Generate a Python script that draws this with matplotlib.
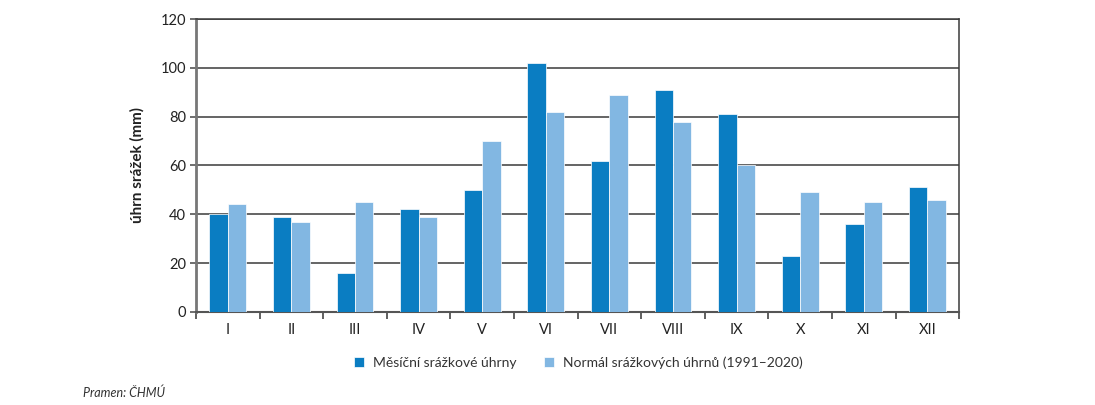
import numpy as np
import matplotlib.pyplot as plt

plt.rcParams['font.family'] = ['Lato', 'DejaVu Sans']

mesice = ['I', 'II', 'III', 'IV', 'V', 'VI', 'VII', 'VIII', 'IX', 'X', 'XI', 'XII']
uhrny = [40, 39, 16, 42, 50, 102, 62, 91, 81, 23, 36, 51]
normal = [44, 37, 45, 39, 70, 82, 89, 78, 60, 49, 45, 46]

tmava = '#0a7dc2'
svetla = '#82b7e2'

fig = plt.figure(figsize=(10.95, 4.05), dpi=100)
ax = fig.add_axes([0.179, 0.230, 0.697, 0.723])

x = np.arange(len(mesice))
w = 0.29
ax.bar(x - w/2, uhrny, w, color=tmava, edgecolor='white', linewidth=0.5, zorder=3,
       label='Měsíční srážkové úhrny')
ax.bar(x + w/2, normal, w, color=svetla, edgecolor='white', linewidth=0.5, zorder=3,
       label='Normál srážkových úhrnů (1991–2020)')

ax.set_xlim(-0.5, len(mesice) - 0.5)
ax.set_ylim(0, 120)
ax.set_yticks(range(0, 121, 20))
ax.yaxis.grid(True, color='#3a3a3a', linewidth=1.1, zorder=0)
ax.set_axisbelow(True)

# popisky mesicu uprostred, carky mezi kategoriemi
ax.set_xticks(x)
ax.set_xticklabels(mesice)
ax.tick_params(axis='x', length=0, pad=8, labelsize=10.5, colors='#222222')
ax.set_xticks(np.arange(-0.5, len(mesice) + 0.5, 1), minor=True)
ax.tick_params(axis='x', which='minor', length=5, width=1.2, color='#444444')
ax.tick_params(axis='y', length=4, width=1.2, color='#555555', labelsize=10.5,
               labelcolor='#222222', pad=3)

for s in ['top', 'right']:
    ax.spines[s].set_color('#3a3a3a')
    ax.spines[s].set_linewidth(1.1)
ax.spines['left'].set_color('#777777')
ax.spines['left'].set_linewidth(2.0)
ax.spines['bottom'].set_color('#555555')
ax.spines['bottom'].set_linewidth(1.5)

ax.set_ylabel('úhrn srážek (mm)', fontsize=11, fontweight='bold', color='#222222', labelpad=12)

fig.legend(loc='center', bbox_to_anchor=(0.528, 0.105), ncol=2, frameon=False,
           fontsize=10, handlelength=0.75, handleheight=0.75, columnspacing=2.0,
           handletextpad=0.6, labelcolor='#333333')

fig.text(0.076, 0.02, 'Pramen: ČHMÚ', fontsize=9, style='italic', color='#333333')

fig.savefig('out.png', dpi=100)
